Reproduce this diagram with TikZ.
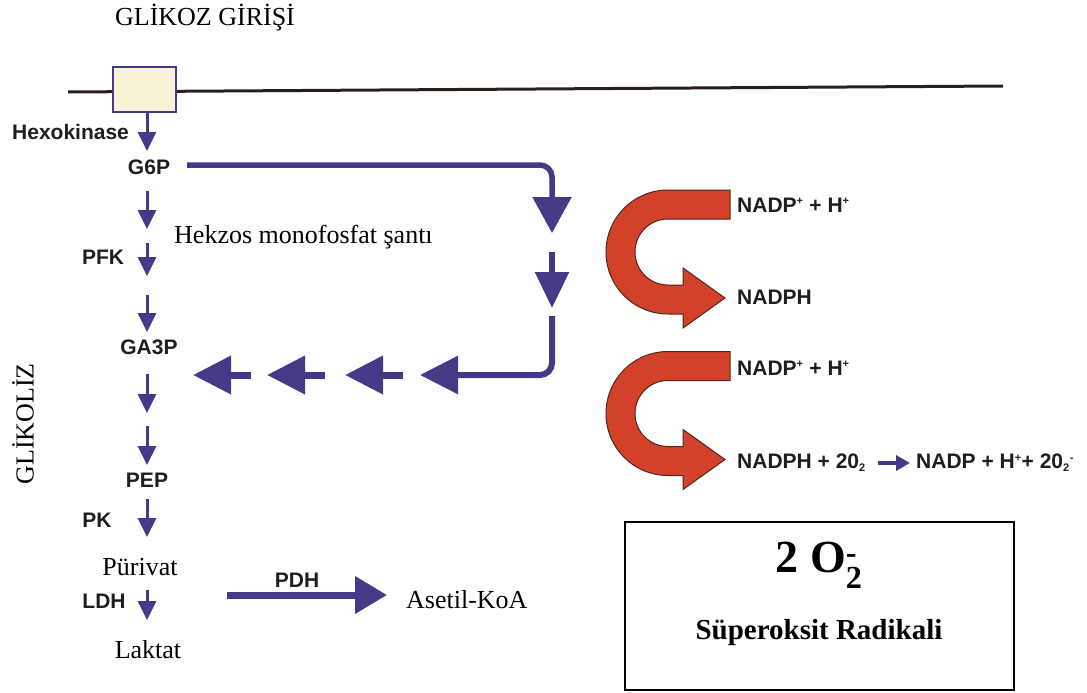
\documentclass[tikz,border=0pt]{standalone}
\usepackage{amsmath}
\usepackage{fontspec}
\setmainfont{Liberation Serif}
\setsansfont{Liberation Sans}
\usetikzlibrary{arrows.meta}

\definecolor{pathviolet}{RGB}{72,56,136}
\definecolor{shuntred}{RGB}{212,65,42}
\definecolor{shuntedge}{RGB}{80,40,30}
\definecolor{membrane}{RGB}{40,30,28}
\definecolor{gatefill}{RGB}{248,243,214}
\definecolor{labelgray}{RGB}{30,30,30}

\newcommand{\tinysup}[1]{\textsuperscript{\fontsize{11}{11}\selectfont #1}}
\newcommand{\tinysub}[1]{\textsubscript{\fontsize{11}{11}\selectfont #1}}

\tikzset{
  serif/.style={font=\fontsize{26}{30}\selectfont, inner sep=0pt},
  enzyme/.style={font=\sffamily\bfseries\fontsize{21}{24}\selectfont, text=labelgray, inner sep=0pt},
  glyc/.style={draw=pathviolet, line width=3pt, -{Triangle[width=18pt,length=19pt]}},
  shunt/.style={draw=pathviolet, line width=5.5pt, rounded corners=12pt},
  fatarrow/.style={draw=pathviolet, line width=7pt, -{Triangle[width=37pt,length=38pt]}},
  uarrow/.pic={
    \filldraw[fill=shuntred, draw=shuntedge, line width=1pt]
      (62,-62) -- (0,-62) arc (270:90:62) -- (15,62) -- (15,76) -- (57,46)
      -- (15,16) -- (15,33) -- (0,33) arc (90:270:33) -- (62,-33) -- cycle;
  }
}

\begin{document}
\begin{tikzpicture}[x=1pt, y=-1pt]
\useasboundingbox (0,0) rectangle (1087,693);

% cell membrane with the glucose gate
\node[serif] (title) at (205,18) {GLİKOZ GİRİŞİ};
\coordinate (mL) at (68,92);
\coordinate (mR) at (1003,86);
\draw[membrane, line width=3pt] (mL) -- (mR);
\node[draw=pathviolet, fill=gatefill, line width=1.5pt, minimum width=63pt, minimum height=45pt] (gate) at (144.5,89.5) {};

% glycolysis column
\node[enzyme, anchor=west] (hexo) at (12,132) {Hexokinase};
\node[enzyme] (g6p) at (149,167) {G6P};
\node[serif, anchor=west] (hms) at (174,237) {Hekzos monofosfat şantı};
\node[enzyme] (pfk) at (103,257) {PFK};
\node[enzyme] (ga3p) at (149,347) {GA3P};
\node[serif, rotate=90] (glikoliz) at (23,424) {GLİKOLİZ};
\node[enzyme] (pep) at (147,480) {PEP};
\node[enzyme] (pk) at (97,520) {PK};
\node[serif] (puri) at (140,567) {Pürivat};
\node[enzyme] (ldh) at (104,601) {LDH};
\node[serif] (laktat) at (148,650) {Laktat};

\coordinate (g0) at (147,151);
\draw[glyc] (gate.south -| g0) -- (g0);
\foreach \a/\b [count=\i] in {191/229, 243/276, 295/332, 374/413, 426/465, 499/537, 590/620}{
  \coordinate (s\i) at (147,\a);
  \coordinate (e\i) at (147,\b);
  \draw[glyc] (s\i) -- (e\i);
}

% pyruvate dehydrogenase branch
\node[enzyme] (pdh) at (297,580) {PDH};
\node[serif, anchor=west] (asetil) at (406,600) {Asetil-KoA};
\coordinate (p0) at (227,595);
\coordinate (p1) at (387,595);
\draw[draw=pathviolet, line width=7pt, -{Triangle[width=36pt,length=32pt]}] (p0) -- (p1);

% hexose monophosphate shunt loop
\coordinate (h0) at (187,165);
\coordinate (h1) at (552,233);
\coordinate (h2) at (552,252);
\coordinate (h3) at (552,308);
\coordinate (h4) at (552,316);
\coordinate (h5) at (420,375);
\draw[shunt, -{Triangle[width=38pt,length=36pt]}] (h0) -| (h1);
\draw[shunt, -{Triangle[width=33pt,length=36pt]}] (h2) -- (h3);
\draw[shunt, line width=6pt, -{Triangle[width=37pt,length=38pt]}] (h4) |- (h5);
\foreach \a/\b [count=\i] in {403/345, 325/267, 251/193}{
  \coordinate (l\i) at (\a,375);
  \coordinate (t\i) at (\b,375);
  \draw[fatarrow, rounded corners=0pt] (l\i) -- (t\i);
}

% NADP+ / NADPH cycles
\pic at (668,252) {uarrow};
\pic at (668,413.5) {uarrow};
\node[enzyme, anchor=west] (nadp1) at (737,205) {NADP\tinysup{+} + H\tinysup{+}};
\node[enzyme, anchor=west] (nadph1) at (737,297) {NADPH};
\node[enzyme, anchor=west] (nadp2) at (737,368) {NADP\tinysup{+} + H\tinysup{+}};
\node[enzyme, anchor=west] (nadph2) at (737,463) {NADPH + 20\tinysub{2}};
\node[enzyme, anchor=west] (nadp3) at (916,463) {NADP + H\tinysup{+}+ 20\tinysub{2}\tinysup{-}};
\draw[draw=pathviolet, line width=4pt, -{Triangle[width=15pt,length=14pt]}] ([xshift=12pt]nadph2.east) -- ([xshift=-6pt]nadp3.west);

% superoxide box
\node[draw=black, line width=1.5pt, minimum width=389pt, minimum height=168pt] (sbox) at (819.5,606) {};
\node[font=\bfseries\fontsize{46}{50}\selectfont, inner sep=0pt] (o2) at (819,565) {2 O$^{\textbf{-}}_{\textbf{2}}$};
\node[font=\bfseries\fontsize{29}{34}\selectfont, inner sep=0pt] (rad) at (819,633) {Süperoksit Radikali};
\end{tikzpicture}
\end{document}
